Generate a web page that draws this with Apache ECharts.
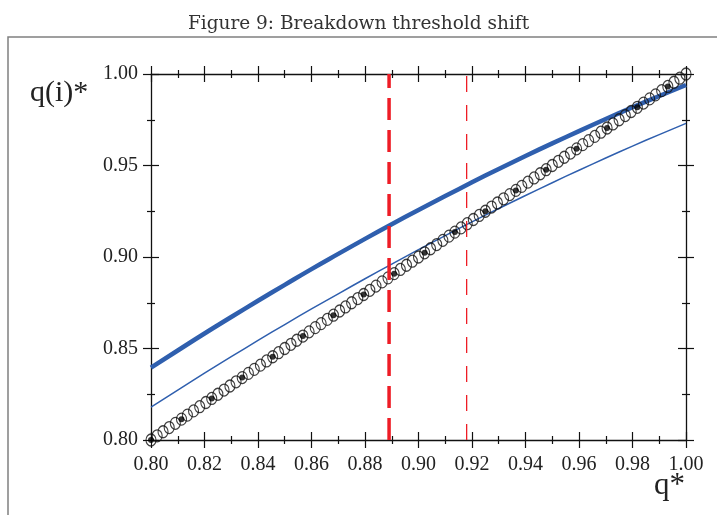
<!DOCTYPE html>
<html>
<head>
<meta charset="utf-8">
<script src="https://cdn.jsdelivr.net/npm/echarts@6/dist/echarts.min.js"></script>
<style>
html,body{margin:0;padding:0;background:#fff;}
#chart{width:717px;height:515px;}
</style>
</head>
<body>
<div id="chart"></div>
<script>
// ---- data ----
const titleText = 'Figure 9: Breakdown threshold shift';
const yName = 'q(i)*';
const xName = 'q*';

// curves sampled at q* = 0.80 ... 1.00 step 0.01
const curveQ = [0.80,0.81,0.82,0.83,0.84,0.85,0.86,0.87,0.88,0.89,0.90,0.91,0.92,0.93,0.94,0.95,0.96,0.97,0.98,0.99,1.00];
const thickCurve = [0.8395,0.8489,0.8582,0.8672,0.8761,0.8848,0.8934,0.9017,0.9099,0.9179,0.9257,0.9333,0.9408,0.9481,0.9552,0.9621,0.9688,0.9754,0.9818,0.9880,0.9940];
const thinCurve = [0.8179,0.8273,0.8365,0.8455,0.8544,0.8631,0.8716,0.8799,0.8881,0.8961,0.9040,0.9117,0.9192,0.9265,0.9336,0.9406,0.9474,0.9541,0.9606,0.9669,0.9730];

// 45-degree line drawn as open circles (q(i)* = q*)
const diagQ = [0.8000,0.8023,0.8045,0.8068,0.8091,0.8114,0.8136,0.8159,0.8182,0.8205,
  0.8227,0.8250,0.8273,0.8295,0.8318,0.8341,0.8364,0.8386,0.8409,0.8432,
  0.8455,0.8477,0.8500,0.8523,0.8545,0.8568,0.8591,0.8614,0.8636,0.8659,
  0.8682,0.8705,0.8727,0.8750,0.8773,0.8795,0.8818,0.8841,0.8864,0.8886,
  0.8909,0.8932,0.8955,0.8977,0.9000,0.9023,0.9045,0.9068,0.9091,0.9114,
  0.9136,0.9159,0.9182,0.9205,0.9227,0.9250,0.9273,0.9295,0.9318,0.9341,
  0.9364,0.9386,0.9409,0.9432,0.9455,0.9477,0.9500,0.9523,0.9545,0.9568,
  0.9591,0.9614,0.9636,0.9659,0.9682,0.9705,0.9727,0.9750,0.9773,0.9795,
  0.9818,0.9841,0.9864,0.9886,0.9909,0.9932,0.9955,0.9977,1.0000];
// filled dots on the 45-degree line
const dotQ = [0.8000,0.8114,0.8227,0.8341,0.8455,0.8568,0.8682,0.8795,0.8909,
  0.9023,0.9136,0.9250,0.9364,0.9477,0.9591,0.9705,0.9818,0.9932];

// vertical thresholds
const thresholdOld = 0.889;
const thresholdNew = 0.918;

// axes
const xMin = 0.80, xMax = 1.00, xStep = 0.02;
const yMin = 0.80, yMax = 1.00, yStep = 0.05;

// ---- chart ----
const chart = echarts.init(document.getElementById('chart'), null, {renderer: 'canvas'});
const serif = 'Liberation Serif';
const lineCol = '#111';

function xAx(pos, inside, label, line) {
  return {
    type: 'value', min: xMin, max: xMax, interval: xStep, position: pos, offset: 0,
    axisLine: {show: line, onZero: false, lineStyle: {color: lineCol, width: 1.3}},
    axisTick: {show: true, inside: inside, length: 8, lineStyle: {color: lineCol, width: 1.2}},
    minorTick: {show: true, splitNumber: 2, length: 4, lineStyle: {color: lineCol, width: 1.2}},
    axisLabel: {show: label, margin: 15, fontFamily: serif, fontSize: 20, color: '#222',
      formatter: v => v.toFixed(2), showMinLabel: true, showMaxLabel: true, hideOverlap: false},
    splitLine: {show: false}
  };
}
function yAx(pos, inside, label, line) {
  return {
    type: 'value', min: yMin, max: yMax, interval: yStep, position: pos, offset: 0,
    axisLine: {show: line, onZero: false, lineStyle: {color: lineCol, width: 1.3}},
    axisTick: {show: true, inside: inside, length: 8, lineStyle: {color: lineCol, width: 1.2}},
    minorTick: {show: true, splitNumber: 2, length: 4, lineStyle: {color: lineCol, width: 1.2}},
    axisLabel: {show: label, margin: 13, fontFamily: serif, fontSize: 20, color: '#222',
      formatter: v => v.toFixed(2), showMinLabel: true, showMaxLabel: true, hideOverlap: false},
    splitLine: {show: false}
  };
}

const blue = '#2f5fae';
const red = '#ee1c25';

const option = {
  backgroundColor: '#fff',
  animation: false,
  title: {
    text: titleText, left: 'center', top: 10,
    textStyle: {fontFamily: 'DejaVu Serif', fontWeight: 'normal', fontSize: 18.5, color: '#333'}
  },
  grid: {left: 151, right: 31, top: 74, bottom: 75, containLabel: false},
  xAxis: [xAx('bottom', false, true, true), xAx('bottom', true, false, false),
          xAx('top', false, false, true), xAx('top', true, false, false)],
  yAxis: [yAx('left', false, true, true), yAx('left', true, false, false),
          yAx('right', false, false, true), yAx('right', true, false, false)],
  graphic: [
    {type: 'rect', shape: {x: 8, y: 37, width: 760, height: 560}, silent: true, z: -10,
      style: {fill: 'none', stroke: '#808080', lineWidth: 1.5}},
    {type: 'text', left: 30, top: 78, silent: true,
      style: {text: yName, font: '30px "Liberation Serif"', fill: '#222'}},
    {type: 'text', left: 654, top: 470, silent: true,
      style: {text: xName, font: '31px "Liberation Serif"', fill: '#222'}}
  ],
  series: [
    {type: 'line', name: 'thin', data: curveQ.map((q, i) => [q, thinCurve[i]]), smooth: true,
      symbol: 'none', lineStyle: {color: blue, width: 1.5}, z: 2},
    {type: 'line', name: 'thick', data: curveQ.map((q, i) => [q, thickCurve[i]]), smooth: true,
      symbol: 'none', lineStyle: {color: blue, width: 4.5}, z: 2},
    {type: 'scatter', name: 'diag', data: diagQ.map(q => [q, q]), symbol: 'circle', symbolSize: [10, 12],
      itemStyle: {color: 'rgba(0,0,0,0)', borderColor: '#111', borderWidth: 1.2}, z: 3},
    {type: 'scatter', name: 'dots', data: dotQ.map(q => [q, q]), symbol: 'circle', symbolSize: 6,
      itemStyle: {color: '#000'}, z: 4},
    {type: 'line', name: 'oldT', data: [[thresholdOld, yMin], [thresholdOld, yMax]], symbol: 'none',
      lineStyle: {color: red, width: 3.5, type: [22, 10]}, z: 5},
    {type: 'line', name: 'newT', data: [[thresholdNew, yMin], [thresholdNew, yMax]], symbol: 'none',
      lineStyle: {color: red, width: 1.3, type: [16, 13]}, z: 5}
  ]
};
chart.setOption(option);
</script>
</body>
</html>
